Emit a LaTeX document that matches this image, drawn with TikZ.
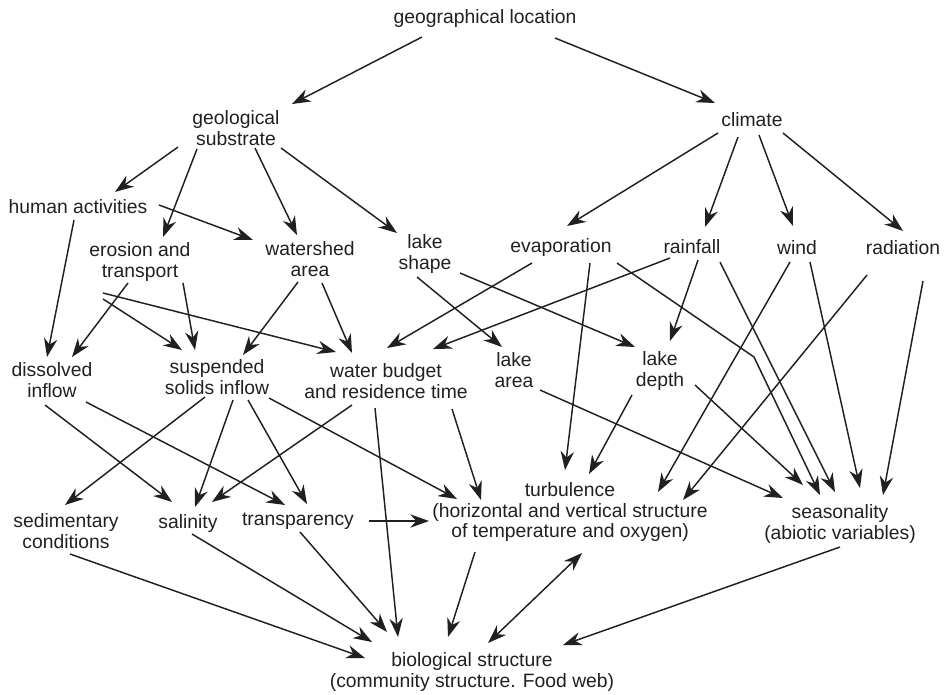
\documentclass[tikz,border=0pt]{standalone}
\usepackage{fontspec}
\setmainfont{Liberation Sans}
\usetikzlibrary{arrows.meta}
\definecolor{ink}{HTML}{231F20}

\begin{document}
\begin{tikzpicture}[x=0.75pt, y=-0.75pt,
  >={Stealth[length=14pt, width=10pt, inset=4.5pt]},
  every node/.style={font=\fontsize{14.5}{15.4}\selectfont, text=ink, align=center, inner sep=0pt},
  link/.style={draw=ink, line width=1.1pt, ->}]
  \useasboundingbox (0,0) rectangle (952,694);

  % top: location, substrate, climate
  \node (geo)   at (485,18)  {geographical location};
  \node (geol)  at (236,128) {geological\\substrate};
  \node (clim)  at (752,120) {climate};

  % second row
  \node (human) at (78,207)  {human activities};
  \node (eros)  at (140,262) {erosion and\\transport};
  \node (water) at (310,259) {watershed\\area};
  \node (shape) at (425,254) {lake\\shape};
  \node (evap)  at (561,247) {evaporation};
  \node (rain)  at (692,247) {rainfall};
  \node (wind)  at (797,248) {wind};
  \node (rad)   at (903,248) {radiation};

  % third row
  \node (diss)  at (52,380)  {dissolved\\inflow};
  \node (susp)  at (217,377) {suspended\\solids inflow};
  \node (wbud)  at (386,381) {water budget\\and residence time};
  \node (area)  at (514,370) {lake\\area};
  \node (depth) at (660,371) {lake\\depth};

  % fourth row
  \node (sed)   at (66,531)  {sedimentary\\conditions};
  \node (sal)   at (188,523) {salinity};
  \node (trans) at (298,521) {transparency};
  \node (turb)  at (570,512) {turbulence\\(horizontal and vertical structure\\of temperature and oxygen)};
  \node (seas)  at (840,524) {seasonality\\(abiotic variables)};

  % bottom
  \node (bio)   at (472,672) {biological structure\\(community structure. Food web)};

  % arrows from the top two levels
  \foreach \a/\sa/\b/\sb in {
      geo/{-63,19}/geol/{56,-24}, geo/{70,20}/clim/{-37,-17},
      geol/{-58,19}/human/{37,-15}, geol/{-39,21}/eros/{23,-25},
      geol/{19,20}/water/{-13,-24}, geol/{45,20}/shape/{-28,-21},
      clim/{-34,13}/evap/{6,-21}, clim/{-14,17}/rain/{13,-20},
      clim/{7,15}/wind/{-4,-22}, clim/{31,13}/rad/{0,-17}}
    \draw[link] ([shift={(\sa)}]\a.center) -- ([shift={(\sb)}]\b.center);

  % arrows into the third row
  \foreach \a/\sa/\b/\sb in {
      human/{81,-2}/water/{-57,-19}, human/{-4,13}/diss/{-5,-23},
      eros/{-12,21}/diss/{20,-23}, eros/{43,21}/susp/{-22,-27},
      eros/{-37,31}/wbud/{-50,-29}, eros/{-37,37}/susp/{-35,-27},
      water/{-12,23}/susp/{26,-22}, water/{12,24}/wbud/{-34,-28},
      shape/{-8,23}/area/{-12,-23}, shape/{35,19}/depth/{-25,-24},
      evap/{-29,16}/wbud/{1,-33}, rain/{-22,11}/wbud/{47,-32},
      rain/{6,13}/depth/{10,-30}}
    \draw[link] ([shift={(\sa)}]\a.center) -- ([shift={(\sb)}]\b.center);

  % arrows into turbulence and seasonality
  \foreach \a/\sa/\b/\sb in {
      evap/{29,16}/turb/{-5,-42}, rain/{28,15}/seas/{-5,-32},
      wind/{-7,14}/turb/{88,-20}, wind/{13,14}/seas/{20,-36},
      rad/{-36,27}/turb/{113,-12}, rad/{20,33}/seas/{43,-29},
      area/{26,20}/seas/{-57,-26}, depth/{-28,24}/turb/{19,-38},
      depth/{35,14}/seas/{-37,-39}, susp/{52,21}/turb/{-113,-13},
      wbud/{66,28}/turb/{-89,-12}, trans/{71,0}/turb/{-141,9}}
    \draw[link] ([shift={(\sa)}]\a.center) -- ([shift={(\sb)}]\b.center);
  \draw[link] ([shift={(56,16)}]evap.center) -- (754,357) -- ([shift={(-20,-29)}]seas.center);

  % arrows into the fourth row
  \foreach \a/\sa/\b/\sb in {
      diss/{-7,25}/sal/{-16,-21}, diss/{34,22}/trans/{-13,-16},
      susp/{-12,20}/sed/{-1,-26}, susp/{16,23}/sal/{7,-16},
      susp/{31,23}/trans/{9,-17}, wbud/{-34,24}/sal/{24,-21}}
    \draw[link] ([shift={(\sa)}]\a.center) -- ([shift={(\sb)}]\b.center);

  % arrows into biological structure
  \foreach \a/\sa/\b/\sb in {
      sed/{4,23}/bio/{-107,-14}, sal/{4,11}/bio/{-100,-30},
      trans/{2,11}/bio/{-85,-40}, wbud/{-11,27}/bio/{-74,-35},
      turb/{-95,40}/bio/{-24,-35}, seas/{0,23}/bio/{91,-27}}
    \draw[link] ([shift={(\sa)}]\a.center) -- ([shift={(\sb)}]\b.center);
  \draw[link, <->] ([shift={(12,41)}]turb.center) -- ([shift={(16,-29)}]bio.center);
\end{tikzpicture}
\end{document}
